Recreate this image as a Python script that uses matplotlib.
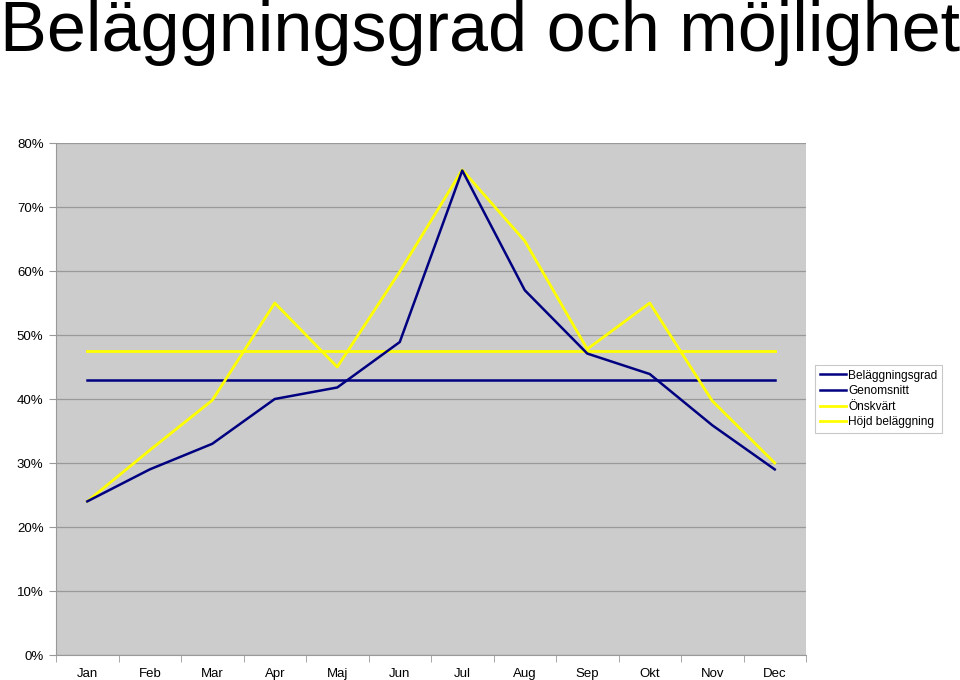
import numpy as np
import matplotlib
matplotlib.use("Agg")
from matplotlib import pyplot as plt
from matplotlib.ticker import FixedLocator, PercentFormatter

months = ["Jan", "Feb", "Mar", "Apr", "Maj", "Jun", "Jul", "Aug", "Sep", "Okt", "Nov", "Dec"]
belaggningsgrad = [24, 29, 33, 40, 41.8, 48.9, 75.7, 57, 47.1, 43.9, 35.9, 29]
genomsnitt = [42.9] * 12
onskvart = [24, 32, 39.8, 55, 45, 59.9, 75.8, 64.7, 47.8, 55, 39.7, 30]
hojd_belaggning = [47.5] * 12

plt.rcParams['font.family'] = ['Liberation Sans', 'DejaVu Sans']

fig = plt.figure(figsize=(9.6, 6.8), dpi=100)
ax = fig.add_axes([56/960, 25/680, 750/960, 512/680])
ax.set_facecolor("#cccccc")

x = np.arange(len(months))
ax.plot(x, belaggningsgrad, color="#000080", lw=1.8, label="Beläggningsgrad", zorder=4)
ax.plot(x, genomsnitt, color="#000080", lw=1.8, label="Genomsnitt", zorder=3)
ax.plot(x, onskvart, color="#ffff00", lw=2.0, label="Önskvärt", zorder=3)
ax.plot(x, hojd_belaggning, color="#ffff00", lw=2.0, label="Höjd beläggning", zorder=3)

ax.set_xlim(-0.5, 11.5)
ax.set_ylim(0, 80)
ax.set_yticks(np.arange(0, 81, 10))
ax.yaxis.set_major_formatter(PercentFormatter(decimals=0))
ax.grid(axis="y", color="#999999", lw=0.9, zorder=1)
ax.set_axisbelow(True)

ax.set_xticks(x)
ax.set_xticklabels(months)
ax.xaxis.set_minor_locator(FixedLocator(np.arange(-0.5, 12, 1)))
ax.tick_params(axis="x", which="major", length=0, pad=15.5, labelsize=9.5)
ax.tick_params(axis="x", which="minor", length=5, color="#999999")
ax.tick_params(axis="y", length=5, color="#999999", labelsize=9.5, pad=4)
for lbl in ax.get_xticklabels():
    lbl.set_va("baseline")

for s in ["top", "right"]:
    ax.spines[s].set_visible(False)
for s in ["left", "bottom"]:
    ax.spines[s].set_color("#999999")

fig.text(0.5, 1.0, "Beläggningsgrad och möjlighet", ha="center", va="top", fontsize=50.5)

leg = ax.legend(loc="center left", bbox_to_anchor=(1.012, 0.5), fontsize=8.6,
                frameon=True, fancybox=False, handlelength=2.2, handletextpad=0.2,
                labelspacing=0.3, borderpad=0.4, borderaxespad=0)
leg.get_frame().set_edgecolor("#bbbbbb")
leg.get_frame().set_linewidth(0.8)

plt.savefig("out.png", dpi=100)
plt.close()
